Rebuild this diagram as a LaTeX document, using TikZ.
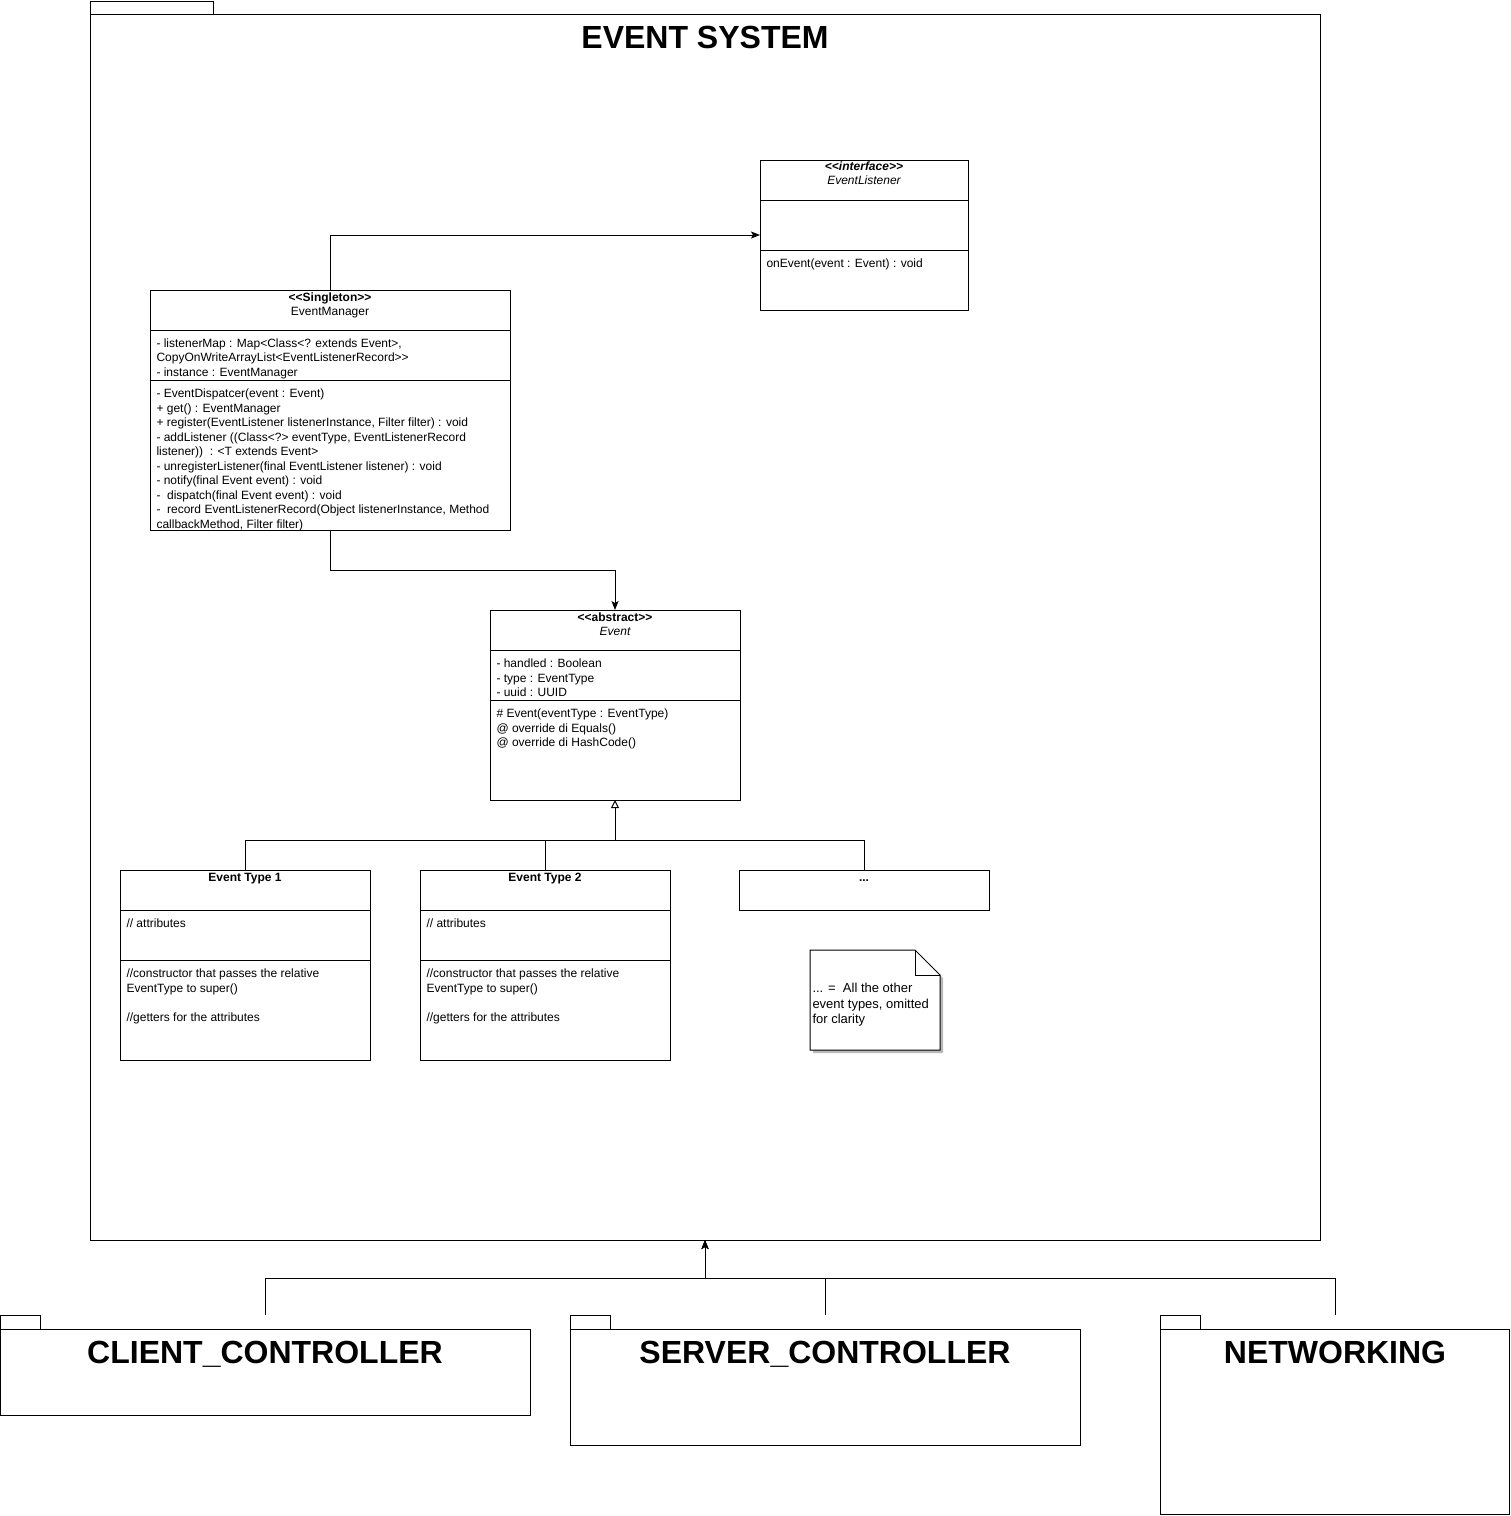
\documentclass[tikz,border=0pt]{standalone}
\usepackage{fontspec}
\setmainfont{Liberation Sans}[Ligatures=TeXOff]
\usetikzlibrary{arrows.meta}
\newcommand{\mlines}[1]{\begin{tabular}[t]{@{}l@{}}#1\end{tabular}}
\newcommand{\clines}[1]{\begin{tabular}[t]{@{}c@{}}#1\end{tabular}}
\begin{document}
\begin{tikzpicture}[x=1pt,y=-1pt,line width=1pt,
  box/.style={draw,inner sep=0,outer sep=0,anchor=north west},
  txt/.style={inner sep=0,anchor=base west,font=\fontsize{12}{14.5}\selectfont},
  htxt/.style={inner sep=0,anchor=base,font=\fontsize{12}{14}\selectfont},
  notetxt/.style={inner sep=0,anchor=base west,font=\fontsize{13}{15.5}\selectfont},
  big/.style={inner sep=0,anchor=base,font=\fontsize{32}{38}\selectfont\bfseries},
  arr/.style={-{Stealth[length=9pt,width=7pt,inset=2pt]}},
  inh/.style={-{Triangle[open,length=8pt,width=8pt]}}]
\useasboundingbox (0,0) rectangle (1511,1516);

% ---------- EVENT SYSTEM package ----------
\draw (90,14) -- (90,1) -- (213,1) -- (213,14);
\node[box,minimum width=1230pt,minimum height=1226pt] (es) at (90,14) {};
\node[big] (est) at (705,48) {EVENT SYSTEM};

% ---------- EventListener ----------
\node[box,minimum width=208pt,minimum height=150pt] (el) at (760,160) {};
\draw (760,200) -- (968,200);
\draw (760,250) -- (968,250);
\node[htxt] (elh) at (864,170) {\clines{\bfseries\itshape <<interface>>\\ \itshape EventListener}};
\node[txt] (elm) at (766,267.5) {onEvent(event : Event) : void};

% ---------- EventManager ----------
\node[box,minimum width=360pt,minimum height=240pt] (em) at (150,290) {};
\draw (150,330) -- (510,330);
\draw (150,380) -- (510,380);
\node[htxt] (emh) at (330,301) {\clines{\bfseries <<Singleton>>\\ EventManager}};
\node[txt] (ema) at (156,347.3) {\mlines{- listenerMap : Map<Class<? extends Event>,\\
CopyOnWriteArrayList<EventListenerRecord>>\\
- instance : EventManager}};
\node[txt] (emm) at (156,397.5) {\mlines{- EventDispatcer(event : Event)\\
+ get() : EventManager\\
+ register(EventListener listenerInstance, Filter filter) : void\\
- addListener ((Class<?> eventType, EventListenerRecord\\
listener)) \ : <T extends Event>\\
- unregisterListener(final EventListener listener) : void\\
- notify(final Event event) : void\\
- \ dispatch(final Event event) : void\\
- \ record EventListenerRecord(Object listenerInstance, Method\\
callbackMethod, Filter filter)}};

% ---------- Event ----------
\node[box,minimum width=250pt,minimum height=190pt] (ev) at (490,610) {};
\draw (490,650) -- (740,650);
\draw (490,700) -- (740,700);
\node[htxt] (evh) at (615,621) {\clines{\bfseries <<abstract>>\\ \itshape Event}};
\node[txt] (eva) at (496,667.5) {\mlines{- handled : Boolean\\ - type : EventType\\ - uuid : UUID}};
\node[txt] (evm) at (496,717.5) {\mlines{\# Event(eventType : EventType)\\ @ override di Equals()\\ @ override di HashCode()}};

% ---------- Event Type 1 ----------
\node[box,minimum width=250pt,minimum height=190pt] (et1) at (120,870) {};
\draw (120,910) -- (370,910);
\draw (120,960) -- (370,960);
\node[htxt] (et1h) at (245,881) {\bfseries Event Type 1};
\node[txt] (et1a) at (126,927.5) {// attributes};
\node[txt] (et1m) at (126,977.5) {\mlines{//constructor that passes the relative\\ EventType to super()\\ \\ //getters for the attributes}};

% ---------- Event Type 2 ----------
\node[box,minimum width=250pt,minimum height=190pt] (et2) at (420,870) {};
\draw (420,910) -- (670,910);
\draw (420,960) -- (670,960);
\node[htxt] (et2h) at (545,881) {\bfseries Event Type 2};
\node[txt] (et2a) at (426,927.5) {// attributes};
\node[txt] (et2m) at (426,977.5) {\mlines{//constructor that passes the relative\\ EventType to super()\\ \\ //getters for the attributes}};

% ---------- ... ----------
\node[box,minimum width=250pt,minimum height=40pt] (et3) at (739,870) {};
\node[htxt] (et3h) at (864,881) {\bfseries ...};

% ---------- note ----------
\fill[gray!55] (813,953) -- (918,953) -- (943,978) -- (943,1053) -- (813,1053) -- cycle;
\draw[fill=white] (810,950) -- (915,950) -- (940,975) -- (940,1050) -- (810,1050) -- cycle;
\draw (915,950) -- (915,975) -- (940,975);
\node[notetxt] (nt) at (812,992.5) {\mlines{... = \ All the other\\ event types, omitted\\ for clarity}};

% ---------- connectors ----------
\draw[arr] (em.north) |- (el.west);
\coordinate (j1) at (330,570);
\draw[arr] (em.south) -- (j1) -| (ev.north);
\coordinate (bus) at (615,840);
\draw (et1.north) |- (bus);
\draw (et2.north) |- (bus);
\draw (et3.north) |- (bus);
\draw[inh] (bus) -- (ev.south);

% ---------- bottom packages ----------
\draw (0.5,1329) -- (0.5,1315) -- (40,1315) -- (40,1329);
\node[box,minimum width=529.5pt,minimum height=86pt] (cc) at (0.5,1329) {};
\node[big] (cct) at (265,1363) {CLIENT\_CONTROLLER};
\coordinate (ccp) at (265,1315);

\draw (570,1329) -- (570,1315) -- (610,1315) -- (610,1329);
\node[box,minimum width=510pt,minimum height=116pt] (sc) at (570,1329) {};
\node[big] (sct) at (825,1363) {SERVER\_CONTROLLER};
\coordinate (scp) at (825,1315);

\draw (1160,1329) -- (1160,1315) -- (1200,1315) -- (1200,1329);
\node[box,minimum width=349.5pt,minimum height=185.5pt] (nw) at (1160,1329) {};
\node[big] (nwt) at (1335,1363) {NETWORKING};
\coordinate (nwp) at (1335,1315);

\coordinate (pb) at (705,1278);
\draw[arr] (ccp) |- (pb) -- (es.south);
\draw[arr] (scp) |- (pb) -- (es.south);
\draw[arr] (nwp) |- (pb) -- (es.south);
\end{tikzpicture}
\end{document}
